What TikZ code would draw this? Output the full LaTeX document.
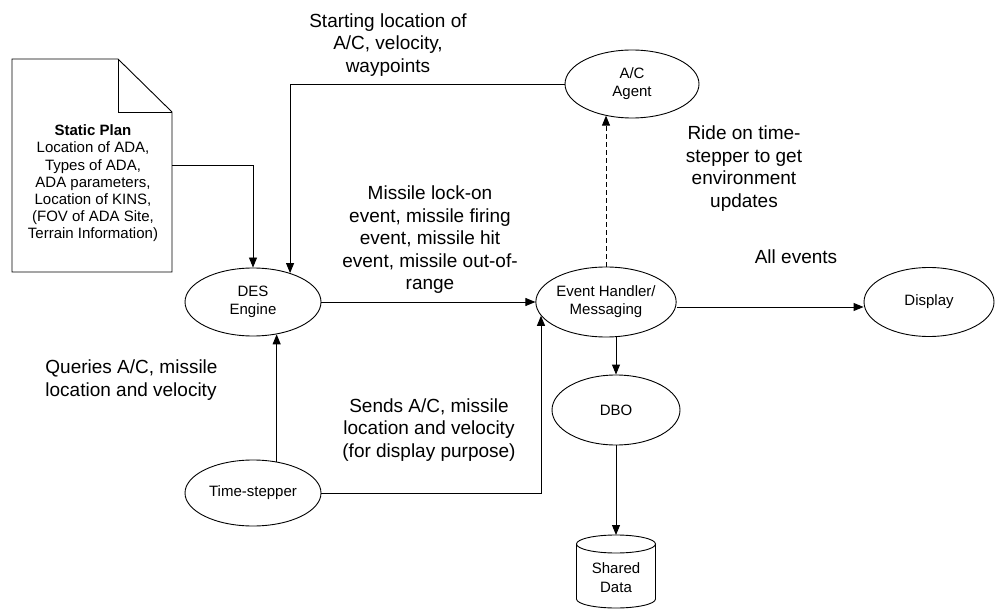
\documentclass[tikz,border=0pt]{standalone}
\usepackage{fontspec}
\setmainfont{Liberation Sans}
\usetikzlibrary{arrows.meta,shapes.geometric}

\begin{document}
\begin{tikzpicture}[x=1pt,y=-1pt,
  line width=0.9pt,
  arr/.style={-{Triangle[length=10pt,width=8pt]}},
  dashline/.style={dash pattern=on 5pt off 3pt},
  oval/.style={draw,ellipse,inner sep=0pt,align=center,
    font=\fontsize{15}{18}\selectfont},
  note/.style={align=center,inner sep=0pt,
    font=\fontsize{19}{22.5}\selectfont},
  plain/.style={inner sep=0pt,outer sep=0pt}]

\useasboundingbox (0,0) rectangle (995,609);

% process ovals
\node[oval,minimum width=136pt,minimum height=68pt] (des) at (253,302) {DES\\Engine};
\node[oval,minimum width=136pt,minimum height=66pt] (ts) at (253,493) {Time-stepper};
\node[oval,minimum width=138pt,minimum height=70pt] (eh) at (606,302) {Event Handler/\\Messaging};
\node[oval,minimum width=134pt,minimum height=68pt] (ac) at (632,84) {A/C\\Agent};
\node[oval,minimum width=130pt,minimum height=69pt] (disp) at (929,302) {Display};
\node[oval,minimum width=128pt,minimum height=70pt] (dbo) at (616,410) {DBO};

% static plan document with folded corner
\node[plain,minimum width=160pt,minimum height=213pt] (doc) at (92,165.5) {};
\draw[fill=white] (doc.north west) -- ([xshift=-54pt]doc.north east)
  -- ([yshift=-53pt]doc.north east) -- (doc.south east)
  -- (doc.south west) -- cycle;
\draw ([xshift=-54pt]doc.north east) -- ([xshift=-54pt,yshift=-53pt]doc.north east)
  -- ([yshift=-53pt]doc.north east);
\node[align=center,inner sep=0pt,font=\fontsize{15}{17.2}\selectfont] (plan) at (93,183.5)
  {\textbf{Static Plan}\\Location of ADA,\\Types of ADA,\\ADA parameters,\\Location of KINS,\\(FOV of ADA Site,\\Terrain Information)};

% shared data store (cylinder)
\node[plain,minimum width=79pt,minimum height=73pt] (shared) at (616,571.5) {};
\draw ([yshift=-9pt]shared.north west) -- ([yshift=9pt]shared.south west)
  arc[start angle=180,end angle=360,x radius=39.5pt,y radius=9pt]
  -- ([yshift=-9pt]shared.north east);
\draw ([yshift=-9pt]shared.north) ellipse[x radius=39.5pt,y radius=9pt];
\node[align=center,inner sep=0pt,font=\fontsize{15}{19}\selectfont] (sharedtext) at (616,577.5) {Shared\\Data};

% connectors
\draw[arr] (doc.east) -| (des.north);
\draw[arr] (ac.west) -| (des.38.7);
\draw[arr] (des.east) -- (eh.west);
\draw[arr] (ts.53.5) -- (ts.53.5 |- des.-54.3);
\draw[arr] (ts.east) -| (eh.192.8);
\draw[arr,dashline] (eh.north) -- (eh.north |- ac.230.3);
\draw[arr] ([yshift=-5pt]eh.east) -- ([yshift=-5pt]disp.west);
\draw[arr] (dbo.north |- eh.south) -- (dbo.north);
\draw[arr] (dbo.south) -- (shared.north);

% connector labels
\node[note] (lstart) at (388,45) {Starting location of\\A/C, velocity,\\waypoints};
\node[note] (lmissile) at (430,240) {Missile lock-on\\event, missile firing\\event, missile hit\\event, missile out-of-\\range};
\node[note] (lride) at (744,168.5) {Ride on time-\\stepper to get\\environment\\updates};
\node[note] (lall) at (796,257) {All events};
\node[note,align=left,anchor=west] (lquery) at (45,380) {Queries A/C, missile\\location and velocity};
\node[note] (lsend) at (429,430) {Sends A/C, missile\\location and velocity\\(for display purpose)};
\end{tikzpicture}
\end{document}
